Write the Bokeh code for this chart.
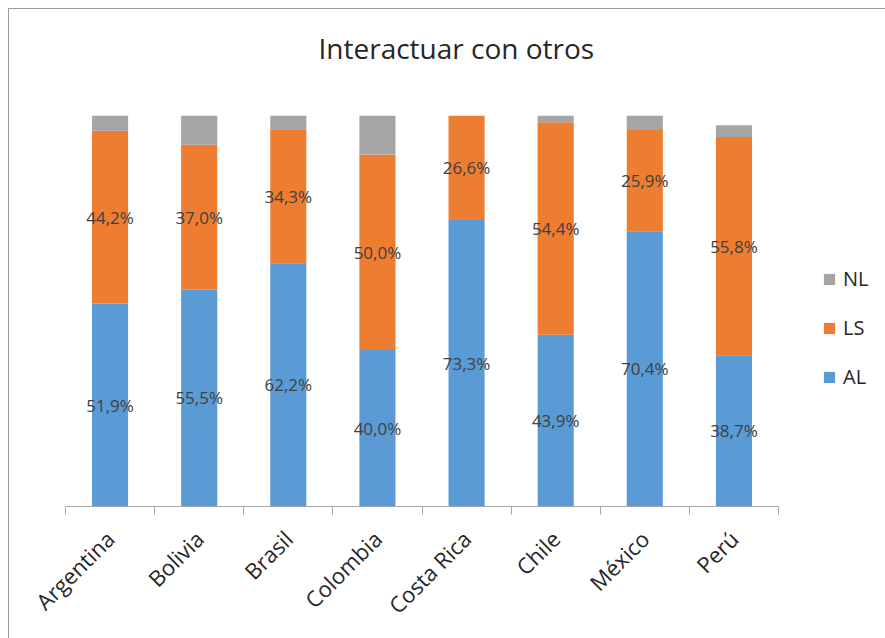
from bokeh.plotting import figure
from bokeh.models import ColumnDataSource, Range1d, FixedTicker, Legend, LegendItem
from bokeh.core.properties import value
from bokeh.embed import file_html
from bokeh.resources import INLINE
import math

title_text = "Interactuar con otros"
countries = ["Argentina", "Bolivia", "Brasil", "Colombia", "Costa Rica", "Chile", "México", "Perú"]
AL = [51.9, 55.5, 62.2, 40.0, 73.3, 43.9, 70.4, 38.7]
LS = [44.2, 37.0, 34.3, 50.0, 26.6, 54.4, 25.9, 55.8]
NL = [3.9, 7.5, 3.5, 10.0, 0.1, 1.7, 3.7, 3.0]
series = ["AL", "LS", "NL"]
colors = {"AL": "#5B9BD5", "LS": "#ED7D31", "NL": "#A5A5A5"}

def fmt(v):
    return ("%.1f" % v).replace(".", ",") + "%"

n = len(countries)
xs = [i + 0.5 for i in range(n)]
src = ColumnDataSource(dict(x=xs, AL=AL, LS=LS, NL=NL))

p = figure(x_range=Range1d(0, n), y_range=Range1d(0, 100),
           frame_width=713, frame_height=391,
           min_border_left=56, min_border_top=106, min_border_bottom=134, min_border_right=101,
           output_backend="svg", toolbar_location=None)
p.styles = {"border": "1px solid #9a9a9a", "margin": "8px 0px 0px 8px"}
p.outline_line_color = None
p.xgrid.visible = False
p.ygrid.visible = False
p.yaxis.visible = False

renderers = p.vbar_stack(series, x="x", width=0.405, source=src,
                         color=[colors[s] for s in series], line_color=None)

# data labels
lab_x, lab_y, lab_t = [], [], []
for i in range(n):
    lab_x += [xs[i], xs[i]]
    lab_y += [AL[i] / 2, AL[i] + LS[i] / 2]
    lab_t += [fmt(AL[i]), fmt(LS[i])]
lsrc = ColumnDataSource(dict(x=lab_x, y=lab_y, t=lab_t))
p.text(x="x", y="y", text="t", source=lsrc, text_align="center", text_baseline="middle",
       text_font=value("Open Sans"), text_font_size="17px", text_color="#404040")

# x axis: labels at category centres, tick marks at category boundaries
ax = p.xaxis[0]
ax.ticker = FixedTicker(ticks=xs, minor_ticks=list(range(n + 1)))
ax.major_label_overrides = {x: c for x, c in zip(xs, countries)}
ax.major_tick_line_color = None
ax.major_tick_out = 0
ax.major_tick_in = 0
ax.minor_tick_out = 8
ax.minor_tick_in = 0
ax.minor_tick_line_color = "#A6A6A6"
ax.axis_line_color = "#A6A6A6"
ax.major_label_orientation = math.pi / 4
ax.major_label_text_font = "Open Sans"
ax.major_label_text_font_size = "22px"
ax.major_label_text_color = "#262626"
ax.major_label_standoff = 20

# title (trailing blank line lifts it higher above the bars)
p.title.text = title_text + "\n"
p.title.text_font = "Open Sans"
p.title.text_font_size = "28px"
p.title.text_font_style = "normal"
p.title.text_color = "#262626"
p.title.align = "left"
p.title.offset = 253
p.title.standoff = 22

# legend
items = [LegendItem(label=s, renderers=[r]) for s, r in zip(series, renderers)][::-1]
leg = Legend(items=items, location=(44, 116), margin=0, padding=4,
             glyph_width=14, glyph_height=14, label_height=20, spacing=22,
             label_standoff=7, border_line_color=None, background_fill_alpha=0,
             label_text_font="Open Sans", label_text_font_size="20px", label_text_color="#262626")
p.add_layout(leg, "right")

open("out.html", "w").write(file_html(p, INLINE))
